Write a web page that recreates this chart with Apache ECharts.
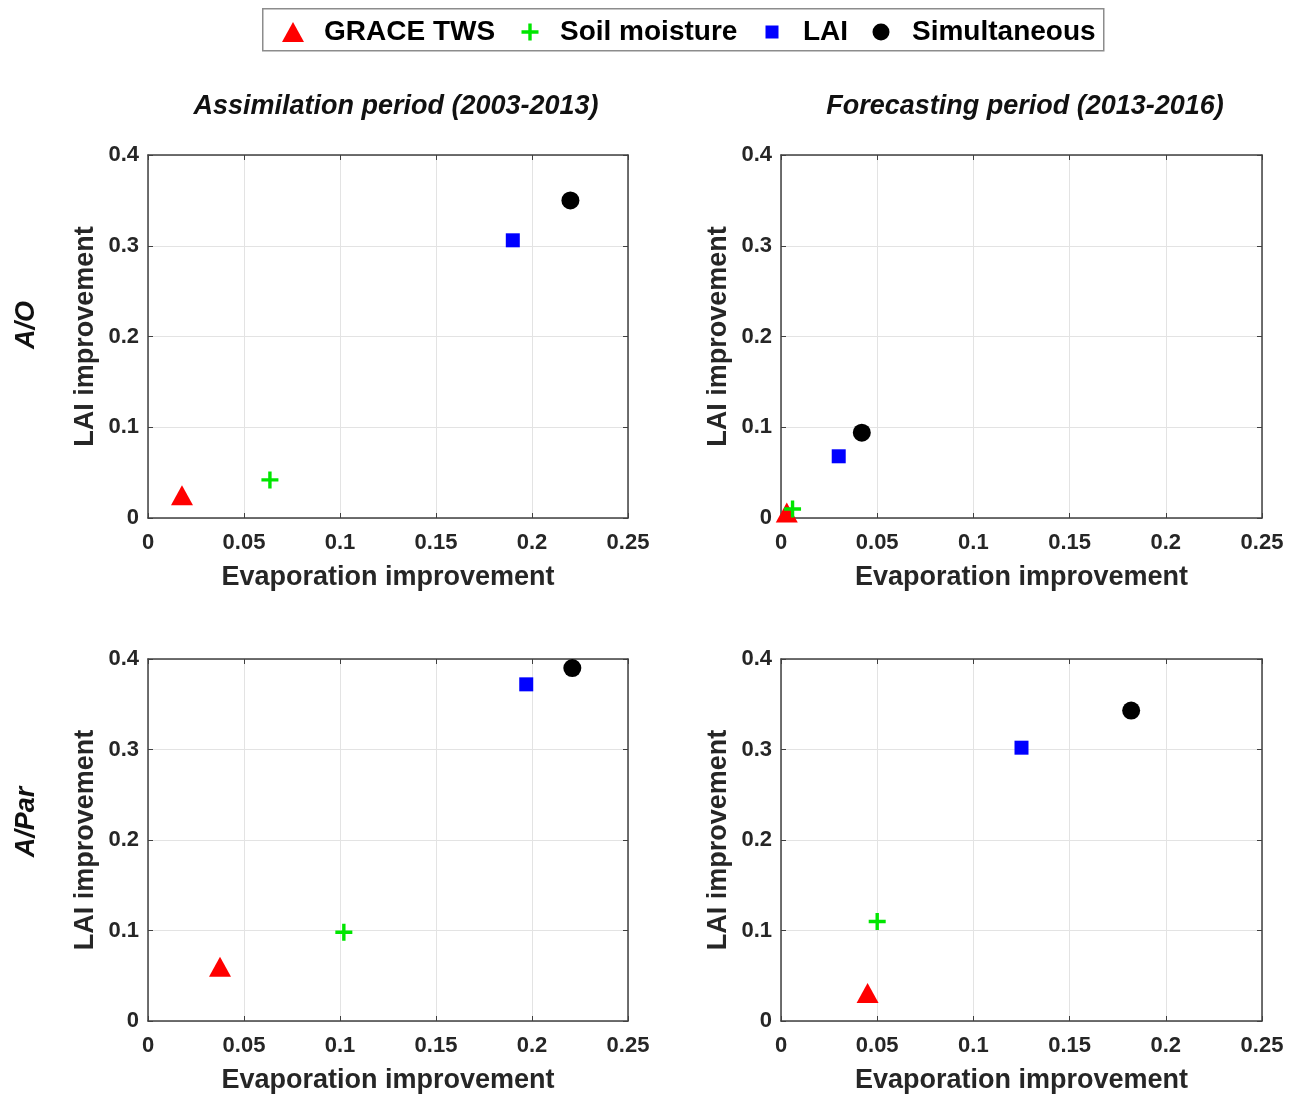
<!DOCTYPE html>
<html><head><meta charset="utf-8">
<script src="https://cdn.jsdelivr.net/npm/echarts@6/dist/echarts.min.js"></script>
<style>html,body{margin:0;padding:0;background:#fff}#c{width:1301px;height:1096px}</style>
</head><body><div id="c"></div>
<script>
const seriesNames = ['GRACE TWS', 'Soil moisture', 'LAI', 'Simultaneous'];
const colTitles = ['Assimilation period (2003-2013)', 'Forecasting period (2013-2016)'];
const rowTitles = ['A/O', 'A/Par'];
const xTicks = [0, 0.05, 0.1, 0.15, 0.2, 0.25];
const yTicks = [0, 0.1, 0.2, 0.3, 0.4];
// order: GRACE TWS, Soil moisture, LAI, Simultaneous
const aoAssimX = [0.0177, 0.0635, 0.190, 0.220];
const aoAssimY = [0.025, 0.042, 0.306, 0.350];
const aoForeX  = [0.003, 0.006, 0.030, 0.042];
const aoForeY  = [0.006, 0.010, 0.068, 0.094];
const parAssimX = [0.0375, 0.102, 0.197, 0.221];
const parAssimY = [0.060, 0.098, 0.372, 0.390];
const parForeX  = [0.045, 0.050, 0.125, 0.182];
const parForeY  = [0.031, 0.110, 0.302, 0.343];

const panels = [
  {x: aoAssimX, y: aoAssimY}, {x: aoForeX, y: aoForeY},
  {x: parAssimX, y: parAssimY}, {x: parForeX, y: parForeY}
];
const colors = ['#ff0000', '#00e600', '#0000ff', '#000000'];
const plusPath = 'path://M4,0H6V4H10V6H6V10H4V6H0V4H4Z';
const symbols = ['triangle', plusPath, 'rect', 'circle'];
const sizes = [[22, 20], 17, 14, 18];
const FONT = '"Liberation Sans", Arial, sans-serif';
const gridPos = [
  {left: 148, top: 155, width: 480, height: 363},
  {left: 781, top: 155, width: 481, height: 363},
  {left: 148, top: 659, width: 480, height: 362},
  {left: 781, top: 659, width: 481, height: 362}
];
const axisColor = '#404040';
const tickLabel = {fontFamily: FONT, fontWeight: 'bold', fontSize: 22, color: '#262626'};
const nameStyle = {fontFamily: FONT, fontWeight: 'bold', fontSize: 27, color: '#262626'};
const grids = [], xAxes = [], yAxes = [], series = [];
function edgeAxis(i, pos) {
  return {
    type: 'value', gridIndex: i, position: pos,
    axisLine: {show: true, onZero: false, lineStyle: {color: axisColor, width: 1.5}},
    axisTick: {show: true, inside: true, length: 5, lineStyle: {color: axisColor}},
    axisLabel: {show: false}, splitLine: {show: false}
  };
}
gridPos.forEach((g, i) => {
  grids.push(Object.assign({show: false, containLabel: false}, g));
  const xMin = xTicks[0], xMax = xTicks[xTicks.length - 1], xInt = xTicks[1] - xTicks[0];
  const yMin = yTicks[0], yMax = yTicks[yTicks.length - 1], yInt = yTicks[1] - yTicks[0];
  xAxes.push({
    type: 'value', gridIndex: i, min: xMin, max: xMax, interval: xInt, position: 'bottom',
    name: 'Evaporation improvement', nameLocation: 'middle', nameGap: 46, nameTextStyle: nameStyle,
    axisLine: {show: true, onZero: false, lineStyle: {color: axisColor, width: 1.5}},
    axisTick: {show: true, inside: true, length: 5, lineStyle: {color: axisColor}},
    axisLabel: Object.assign({margin: 14}, tickLabel),
    splitLine: {show: true, lineStyle: {color: '#e3e3e3', width: 1}}
  });
  xAxes.push(Object.assign(edgeAxis(i, 'top'), {min: xMin, max: xMax, interval: xInt}));
  yAxes.push({
    type: 'value', gridIndex: i, min: yMin, max: yMax, interval: yInt, position: 'left',
    name: 'LAI improvement', nameLocation: 'middle', nameGap: 49, nameTextStyle: nameStyle,
    axisLine: {show: true, onZero: false, lineStyle: {color: axisColor, width: 1.5}},
    axisTick: {show: true, inside: true, length: 5, lineStyle: {color: axisColor}},
    axisLabel: Object.assign({margin: 9}, tickLabel),
    splitLine: {show: true, lineStyle: {color: '#e3e3e3', width: 1}}
  });
  yAxes.push(Object.assign(edgeAxis(i, 'right'), {min: yMin, max: yMax, interval: yInt}));
  const p = panels[i];
  seriesNames.forEach((name, k) => {
    series.push({
      type: 'scatter', name: name, xAxisIndex: 2 * i, yAxisIndex: 2 * i,
      symbol: symbols[k], symbolSize: sizes[k],
      itemStyle: {color: colors[k], opacity: 1},
      data: [[p.x[k], p.y[k]]], z: 5
    });
  });
});

// one legend per entry so each icon can have its own size
const legIcon = [[22, 20], [17, 17], [13, 13], [17, 17]];
const legCenterX = [293, 530, 772, 881];
const legTextX = [324, 560, 803, 912];
const legends = seriesNames.map((name, k) => {
  const w = legIcon[k][0], h = legIcon[k][1];
  const left = legCenterX[k] - w / 2;
  const pad = legTextX[k] - (left + w + 5);
  return {
    data: [name], left: left, top: 18, padding: 0,
    itemWidth: w, itemHeight: h, selectedMode: false,
    textStyle: {fontFamily: FONT, fontWeight: 'bold', fontSize: 28, color: '#000', padding: [0, 0, 0, pad]}
  };
});

const option = {
  animation: false,
  backgroundColor: '#fff',
  legend: legends,
  title: [
    {text: colTitles[0], left: 391, top: 88, textAlign: 'center',
     textStyle: {fontFamily: FONT, fontWeight: 'bold', fontStyle: 'italic', fontSize: 27, color: '#111'}},
    {text: colTitles[1], left: 1020, top: 88, textAlign: 'center',
     textStyle: {fontFamily: FONT, fontWeight: 'bold', fontStyle: 'italic', fontSize: 27, color: '#111'}}
  ],
  graphic: [
    {type: 'rect', left: 262, top: 8, z: -1,
     shape: {width: 841, height: 42},
     style: {fill: '#fff', stroke: '#8c8c8c', lineWidth: 1.5}},
    {type: 'text', x: 27, y: 325, rotation: Math.PI / 2,
     style: {text: rowTitles[0], fontFamily: FONT, fontWeight: 'bold', fontStyle: 'italic', fontSize: 27, fill: '#111', align: 'center', verticalAlign: 'middle'}},
    {type: 'text', x: 27, y: 822, rotation: Math.PI / 2,
     style: {text: rowTitles[1], fontFamily: FONT, fontWeight: 'bold', fontStyle: 'italic', fontSize: 27, fill: '#111', align: 'center', verticalAlign: 'middle'}}
  ],
  grid: grids, xAxis: xAxes, yAxis: yAxes, series: series
};
const chart = echarts.init(document.getElementById('c'), null, {renderer: 'canvas'});
chart.setOption(option);
</script></body></html>
